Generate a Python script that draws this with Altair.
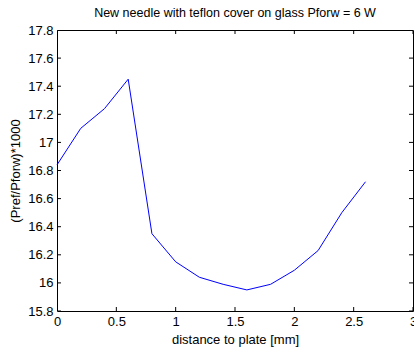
import altair as alt
import pandas as pd

# Measured reflection ratio vs. needle distance to the plate
distance_mm = [0.0, 0.2, 0.4, 0.6, 0.8, 1.0, 1.2, 1.4, 1.6, 1.8, 2.0, 2.2, 2.4, 2.6]
ratio_x1000 = [16.84, 17.10, 17.24, 17.45, 16.35, 16.15, 16.04, 15.99, 15.95, 15.99,
               16.09, 16.23, 16.50, 16.72]

x_ticks = [0, 0.5, 1, 1.5, 2, 2.5, 3]
y_ticks = [15.8, 16.0, 16.2, 16.4, 16.6, 16.8, 17.0, 17.2, 17.4, 17.6, 17.8]
x_range = [0, 3]
y_range = [15.8, 17.8]

df = pd.DataFrame({"d": distance_mm, "r": ratio_x1000})

# tick positions on all four sides of the box
xt = pd.DataFrame({"d": x_ticks * 2,
                   "r": [y_range[0]] * len(x_ticks) + [y_range[1]] * len(x_ticks)})
yt = pd.DataFrame({"d": [x_range[0]] * len(y_ticks) + [x_range[1]] * len(y_ticks),
                   "r": y_ticks * 2})

FONT = "Liberation Sans"
xs = alt.Scale(domain=x_range, nice=False, zero=False)
ys = alt.Scale(domain=y_range, nice=False, zero=False)

x_axis = alt.Axis(values=x_ticks, format="~g", title="distance to plate [mm]",
                  titlePadding=5)
y_axis = alt.Axis(values=y_ticks, format="~g", title="(Pref/Pforw)*1000",
                  titlePadding=5)

line = alt.Chart(df).mark_line(color="#0000ff", strokeWidth=1).encode(
    x=alt.X("d:Q", scale=xs, axis=x_axis),
    y=alt.Y("r:Q", scale=ys, axis=y_axis),
)

# inward ticks: centred on the frame edge, outer half clipped away
x_tick_marks = alt.Chart(xt).mark_tick(orient="vertical", size=8, thickness=1,
                                       color="black", opacity=1, clip=True).encode(
    x=alt.X("d:Q", scale=xs, axis=None), y=alt.Y("r:Q", scale=ys, axis=None))
y_tick_marks = alt.Chart(yt).mark_tick(orient="horizontal", size=8, thickness=1,
                                       color="black", opacity=1, clip=True).encode(
    x=alt.X("d:Q", scale=xs, axis=None), y=alt.Y("r:Q", scale=ys, axis=None))

chart = (
    alt.layer(line, x_tick_marks, y_tick_marks)
    .resolve_axis(x="independent", y="independent")
    .properties(
        width=356,
        height=281,
        autosize=alt.AutoSizeParams(type="none"),
        padding={"left": 57, "top": 30, "right": 1, "bottom": 37},
        background="white",
        title=alt.Title("New needle with teflon cover on glass Pforw = 6 W",
                        font=FONT, fontSize=12.5, fontWeight="normal",
                        color="black", offset=5),
    )
    .configure_view(stroke="black", strokeWidth=1)
    .configure_axis(ticks=False, domain=False, grid=False,
                    labelFont=FONT, labelFontSize=13, labelColor="black",
                    labelPadding=4, labelFlush=False, labelOverlap=False,
                    labelBound=False, titleFont=FONT, titleFontSize=13,
                    titleFontWeight="normal", titleColor="black")
)

chart.save("out.html", embed_options={"renderer": "svg", "actions": False})
